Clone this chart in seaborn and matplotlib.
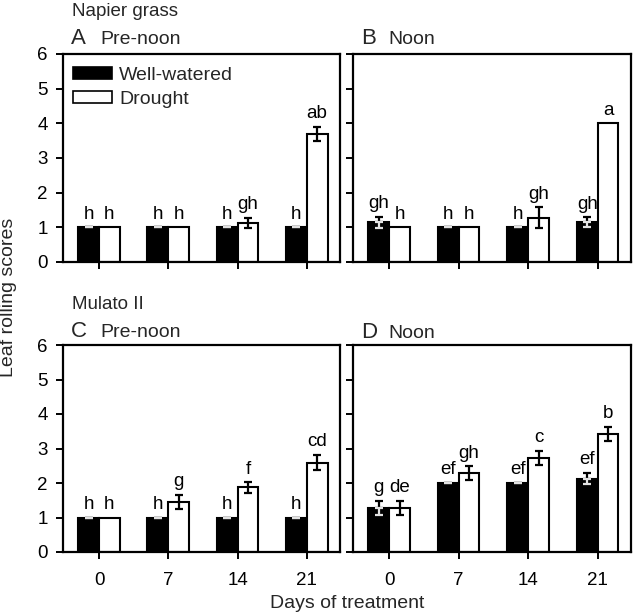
import matplotlib
matplotlib.use("Agg")
import matplotlib.pyplot as plt
from matplotlib.patches import Patch
import seaborn as sns
import pandas as pd

sns.set_theme(style="white")
plt.rcParams['font.family'] = ['Liberation Sans', 'DejaVu Sans']

days = ["0", "7", "14", "21"]
treatments = ["Well-watered", "Drought"]

# Panel A: Napier grass, pre-noon
a_ww = [1.0, 1.0, 1.0, 1.0]
a_ww_err = [0.0, 0.0, 0.0, 0.0]
a_dr = [1.0, 1.0, 1.13, 3.7]
a_dr_err = [0.0, 0.0, 0.15, 0.2]
a_ww_lab = ["h", "h", "h", "h"]
a_dr_lab = ["h", "h", "gh", "ab"]

# Panel B: Napier grass, noon
b_ww = [1.15, 1.0, 1.0, 1.15]
b_ww_err = [0.16, 0.0, 0.0, 0.14]
b_dr = [1.0, 1.0, 1.28, 4.0]
b_dr_err = [0.0, 0.0, 0.3, 0.0]
b_ww_lab = ["gh", "h", "h", "gh"]
b_dr_lab = ["h", "h", "gh", "a"]

# Panel C: Mulato II, pre-noon
c_ww = [1.0, 1.0, 1.0, 1.0]
c_ww_err = [0.0, 0.0, 0.0, 0.0]
c_dr = [1.0, 1.45, 1.87, 2.59]
c_dr_err = [0.0, 0.2, 0.15, 0.22]
c_ww_lab = ["h", "h", "h", "h"]
c_dr_lab = ["h", "g", "f", "cd"]

# Panel D: Mulato II, noon
d_ww = [1.28, 2.0, 2.0, 2.13]
d_ww_err = [0.2, 0.0, 0.0, 0.17]
d_dr = [1.28, 2.28, 2.72, 3.43]
d_dr_err = [0.2, 0.2, 0.21, 0.2]
d_ww_lab = ["g", "ef", "ef", "ef"]
d_dr_lab = ["de", "gh", "c", "b"]

panels = [
    (a_ww, a_ww_err, a_dr, a_dr_err, a_ww_lab, a_dr_lab),
    (b_ww, b_ww_err, b_dr, b_dr_err, b_ww_lab, b_dr_lab),
    (c_ww, c_ww_err, c_dr, c_dr_err, c_ww_lab, c_dr_lab),
    (d_ww, d_ww_err, d_dr, d_dr_err, d_ww_lab, d_dr_lab),
]

W, H = 633, 616
fig = plt.figure(figsize=(W / 100, H / 100), dpi=100)

def box(l, r, t, b):
    return [l / W, 1 - b / H, (r - l) / W, (b - t) / H]

rects = [box(63, 340, 54, 262), box(353, 631, 54, 262),
         box(63, 340, 345, 552), box(353, 631, 345, 552)]

FS_TICK = 13.5
FS_LET = 13.5

for i, (rect, (ww, wwe, dr, dre, wwl, drl)) in enumerate(zip(rects, panels)):
    ax = fig.add_axes(rect)
    df = pd.DataFrame({
        "day": days * 2,
        "score": ww + dr,
        "treatment": [treatments[0]] * 4 + [treatments[1]] * 4,
    })
    sns.barplot(data=df, x="day", y="score", hue="treatment", order=days,
                hue_order=treatments,
                palette={"Well-watered": "black", "Drought": "white"},
                edgecolor="black", linewidth=1.5, width=0.6,
                errorbar=None, legend=False, ax=ax, zorder=2)
    for k, (vals, errs, labs) in enumerate([(ww, wwe, wwl), (dr, dre, drl)]):
        cont = ax.containers[k]
        for p, v, e, lab in zip(cont.patches, vals, errs, labs):
            x = p.get_x() + p.get_width() / 2
            if k == 0:
                ax.errorbar(x, v, yerr=[[0], [e]], color="black", lw=1.6,
                            capsize=3, capthick=1.6, zorder=3)
                ax.errorbar(x, v, yerr=[[e], [0]], color="#e2e2e2", lw=1.6,
                            capsize=3, capthick=1.6, zorder=3)
            elif e > 0:
                ax.errorbar(x, v, yerr=e, color="black", lw=1.6,
                            capsize=3, capthick=1.6, zorder=3)
            ax.text(x, v + e + 0.25, lab, ha="center", va="baseline",
                    fontsize=FS_LET, color="black")
    ax.set_xlim(-0.52, 3.48)
    ax.set_ylim(0, 6)
    ax.set_yticks(range(0, 7))
    ax.set_xlabel("")
    ax.set_ylabel("")
    for s in ax.spines.values():
        s.set_visible(True)
        s.set_color("black")
        s.set_linewidth(1.6)
    ax.tick_params(axis="both", direction="out", length=5, width=1.4,
                   color="black", labelsize=FS_TICK, labelcolor="black")
    ax.tick_params(axis="y", pad=6, left=True)
    ax.tick_params(axis="x", pad=9.5, bottom=True)
    if i in (1, 3):
        ax.set_yticklabels([])
    if i in (0, 1):
        ax.set_xticklabels([])
    if i == 0:
        handles = [Patch(facecolor="black", edgecolor="black", lw=1.2),
                   Patch(facecolor="white", edgecolor="black", lw=1.2)]
        ax.legend(handles, treatments, loc="upper left", frameon=False,
                  fontsize=14, handlelength=2.0, handleheight=0.55,
                  handletextpad=0.4, labelspacing=0.35,
                  bbox_to_anchor=(0.0, 0.985), borderaxespad=0.3, borderpad=0.2)

fig.text(72 / W, 1 - 16 / H, "Napier grass", fontsize=13.5, va="baseline")
fig.text(71 / W, 1 - 44 / H, "A", fontsize=16, va="baseline")
fig.text(100 / W, 1 - 44 / H, "Pre-noon", fontsize=14, va="baseline")
fig.text(361 / W, 1 - 44 / H, "B", fontsize=16, va="baseline")
fig.text(388 / W, 1 - 44 / H, "Noon", fontsize=14, va="baseline")
fig.text(72 / W, 1 - 309 / H, "Mulato II", fontsize=13.5, va="baseline")
fig.text(71 / W, 1 - 337 / H, "C", fontsize=16, va="baseline")
fig.text(100 / W, 1 - 337 / H, "Pre-noon", fontsize=14, va="baseline")
fig.text(361 / W, 1 - 338 / H, "D", fontsize=16, va="baseline")
fig.text(388 / W, 1 - 338 / H, "Noon", fontsize=14, va="baseline")
fig.text(9 / W, 1 - 297 / H, "Leaf rolling scores", fontsize=14,
         rotation=90, ha="center", va="center")
fig.text(347 / W, 1 - 603 / H, "Days of treatment", fontsize=14,
         ha="center", va="center")

fig.savefig("out.png", dpi=100)
